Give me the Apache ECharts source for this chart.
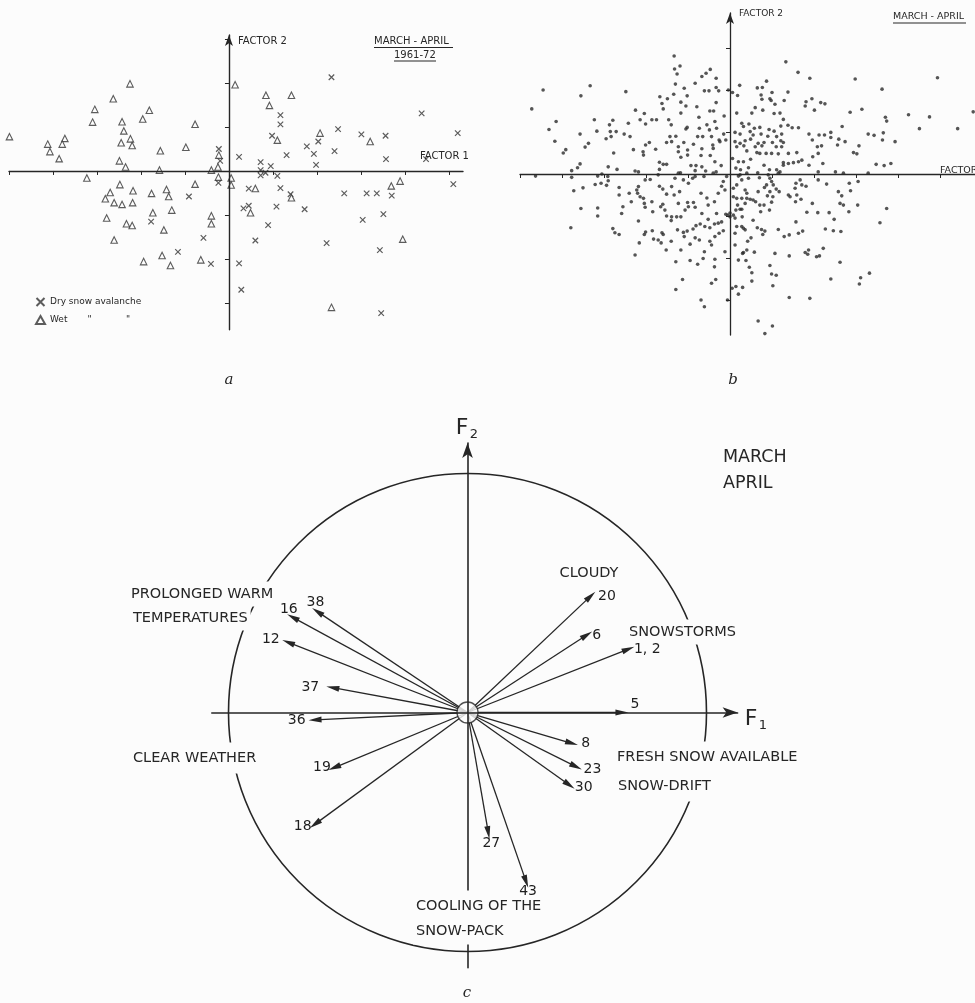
<!DOCTYPE html>
<html><head><meta charset="utf-8">
<script src="https://cdn.jsdelivr.net/npm/echarts@6/dist/echarts.min.js"></script>
<style>html,body{margin:0;padding:0;background:#fcfcfc}#c{width:975px;height:1003px}</style>
</head><body><div id="c"></div>
<script>
// ---------- Panel a : factor scores, dry vs wet avalanches (units = axis ticks) ----------
const dryA = [
[-0.91,-0.58],[-0.23,0.50],[-0.20,0.23],[-0.24,-0.27],[-1.77,-1.15],[-0.58,-1.52],[-1.16,-1.84],[-0.41,-2.11],
[2.33,2.13],[1.17,1.27],[1.17,1.06],[4.38,1.31],[0.98,0.80],[2.48,0.95],[2.03,0.67],[3.01,0.83],[3.56,0.80],[5.20,0.86],
[0.23,0.32],[1.31,0.36],[1.77,0.56],[1.93,0.39],[2.40,0.45],[3.57,0.27],[4.48,0.27],[0.72,0.20],[0.95,0.11],[0.72,0.02],
[0.83,-0.04],[0.72,-0.10],[1.10,-0.11],[1.98,0.14],[0.45,-0.40],[1.17,-0.39],[5.10,-0.30],[2.62,-0.51],[3.13,-0.51],
[3.36,-0.51],[3.70,-0.56],[1.40,-0.53],[0.33,-0.85],[0.45,-0.79],[1.08,-0.81],[1.72,-0.87],[0.89,-1.23],[3.04,-1.11],
[3.51,-0.98],[0.60,-1.58],[2.22,-1.64],[3.43,-1.80],[0.23,-2.10],[0.28,-2.70],[3.46,-3.23]
];
const wetA = [
[-4.99,0.78],[-2.25,1.98],[-2.63,1.64],[-3.05,1.40],[-3.10,1.11],[-1.81,1.38],[-1.96,1.18],[-2.43,1.12],[-2.39,0.91],
[-2.24,0.73],[-2.45,0.64],[-2.20,0.58],[-0.77,1.06],[-3.73,0.74],[-3.79,0.61],[-4.12,0.61],[-4.07,0.44],[-3.86,0.28],
[-0.98,0.54],[-1.56,0.46],[-2.49,0.23],[-2.35,0.09],[-1.58,0.02],[-0.40,0.02],[-0.23,0.36],[-0.25,0.09],[0.14,1.96],
[-3.23,-0.16],[-2.48,-0.31],[-0.77,-0.30],[-0.24,-0.14],[0.05,-0.16],[0.05,-0.32],[-2.18,-0.45],[-2.70,-0.49],
[-1.76,-0.51],[-1.42,-0.42],[-1.37,-0.58],[-2.81,-0.63],[-2.61,-0.72],[-2.43,-0.76],[-2.19,-0.72],[-1.73,-0.95],
[-1.30,-0.89],[-2.78,-1.07],[-2.33,-1.20],[-2.20,-1.24],[-1.48,-1.34],[-0.40,-1.02],[-0.40,-1.20],[-2.61,-1.57],
[-1.52,-1.92],[-1.94,-2.06],[-1.33,-2.15],[-0.64,-2.02],[0.84,1.72],[1.42,1.72],[0.92,1.49],[1.10,0.70],[2.07,0.86],
[3.21,0.67],[0.60,-0.40],[3.69,-0.34],[3.89,-0.23],[1.42,-0.61],[0.49,-0.95],[3.95,-1.55],[2.33,-3.10]
];
const ticksAx = [-5,-4,-3,-2,-1,1,2,3,4,5];
const ticksAy = [-3,-2,-1,1,2,3];

// ---------- Panel b : all days, factor scores ----------
const scoresB = [
[-4.72,1.55],[-4.45,2.00],[-4.31,1.06],[-4.14,1.25],[-4.17,0.78],[-3.97,0.50],[-3.91,0.58],[-3.55,1.86],[-3.33,2.10],[-3.57,0.95],
[-3.45,0.64],[-3.37,0.73],[-3.23,1.29],[-3.17,1.02],[-3.63,0.15],[-3.57,0.24],[-3.77,0.08],[-2.95,0.84],[-2.87,1.17],[-2.85,1.01],
[-2.83,0.89],[-2.79,1.28],[-2.71,1.01],[-2.77,0.50],[-2.90,0.17],[-2.69,0.11],[-2.48,1.96],[-2.52,0.95],[-2.42,1.21],[-2.38,0.89],
[-2.25,1.52],[-2.30,0.58],[-2.26,0.07],[-2.14,1.29],[-2.04,1.44],[-2.01,1.19],[-2.07,0.53],[-2.06,0.45],[-2.01,0.69],[-1.92,0.75],
[-1.86,1.29],[-1.75,1.29],[-1.77,0.59],[-1.67,1.84],[-1.62,1.68],[-1.59,1.55],[-1.49,1.79],[-1.46,1.29],[-1.40,1.17],[-1.51,0.75],
[-1.43,0.89],[-1.39,0.77],[-1.68,0.28],[-1.59,0.23],[-1.51,0.23],[-1.68,0.11],[-1.33,2.81],[-1.32,2.50],[-1.19,2.57],[-1.26,2.38],
[-1.30,2.14],[-1.34,1.90],[-1.17,1.71],[-1.17,1.45],[-1.09,2.04],[-1.02,1.86],[-1.05,1.62],[-1.29,0.90],[-1.23,0.65],[-1.23,0.53],
[-1.17,0.40],[-1.05,1.07],[-1.02,1.11],[-1.10,0.75],[-1.01,0.57],[-1.01,0.45],[-0.93,0.20],[-0.81,0.20],[-0.87,0.71],[-0.83,2.16],
[-0.79,1.60],[-0.74,1.35],[-0.73,1.09],[-0.77,0.89],[-0.67,2.32],[-0.57,2.40],[-0.47,2.49],[-0.61,1.98],[-0.50,1.98],[-0.33,2.28],
[-0.33,2.06],[-0.27,1.98],[-0.48,1.50],[-0.39,1.50],[-0.55,1.17],[-0.49,1.05],[-0.33,1.70],[-0.36,1.25],[-0.32,1.09],[-0.44,0.89],
[-0.41,0.69],[-0.40,0.61],[-0.65,0.89],[-0.67,0.60],[-0.69,0.44],[-0.67,0.17],[-0.47,0.44],[-0.36,0.29],[-0.26,0.81],[-0.24,0.77],
[-0.14,1.38],[-0.15,0.95],[-0.10,0.81],[-0.21,0.20],[-0.33,0.05],[-0.58,0.07],[-0.83,0.08],[-1.23,0.02],[-0.04,2.00],
[1.33,2.67],[1.62,2.42],[1.90,2.28],[2.98,2.26],[4.94,2.29],[3.62,2.02],[0.87,2.21],[0.23,2.11],[0.65,2.05],[0.77,2.06],
[0.06,1.94],[0.18,1.87],[0.74,1.88],[1.00,1.94],[1.38,1.95],[0.76,1.78],[0.95,1.79],[0.98,1.75],[1.29,1.75],[1.95,1.79],
[1.81,1.72],[1.79,1.62],[2.16,1.70],[2.26,1.67],[2.01,1.52],[1.07,1.66],[0.60,1.58],[0.78,1.52],[0.52,1.45],[0.16,1.45],
[1.05,1.44],[1.19,1.45],[1.27,1.30],[2.86,1.47],[3.14,1.54],[3.70,1.35],[3.73,1.26],[4.25,1.41],[4.75,1.36],[4.51,1.08],
[5.42,1.08],[5.79,1.48],[2.67,1.13],[0.45,1.19],[0.28,1.21],[0.32,1.13],[0.58,1.09],[0.71,1.11],[0.93,1.06],[1.05,1.02],
[1.21,1.14],[1.38,1.16],[1.48,1.10],[1.63,1.10],[0.12,0.99],[0.24,0.95],[0.48,1.01],[0.55,0.93],[0.74,0.95],[0.90,0.90],
[1.11,0.89],[1.23,0.95],[1.88,0.95],[2.12,0.93],[2.25,0.93],[2.40,0.99],[2.40,0.87],[1.96,0.81],[2.59,0.83],[2.74,0.77],
[3.29,0.95],[3.43,0.92],[3.65,0.98],[3.63,0.81],[3.93,0.77],[0.12,0.77],[0.24,0.73],[0.36,0.79],[0.49,0.83],[0.67,0.73],
[0.81,0.75],[1.01,0.75],[1.21,0.79],[1.27,0.75],[0.16,0.65],[0.33,0.67],[0.40,0.55],[0.60,0.65],[0.76,0.67],[1.10,0.65],
[1.23,0.65],[0.64,0.51],[0.71,0.49],[0.86,0.49],[0.99,0.49],[1.15,0.48],[1.39,0.49],[1.59,0.51],[2.08,0.65],[2.18,0.67],
[2.10,0.49],[2.56,0.69],[3.07,0.67],[2.94,0.51],[3.02,0.48],[1.97,0.41],[0.06,0.37],[0.20,0.29],[0.32,0.29],[0.49,0.35],
[1.27,0.27],[1.39,0.25],[1.51,0.27],[1.63,0.29],[1.71,0.33],[1.88,0.21],[2.21,0.25],[0.81,0.21],[0.44,0.15],[0.14,0.14],
[0.25,0.10],[0.66,0.03],[0.94,0.10],[1.11,0.10],[1.15,0.02],[1.27,0.21],[3.48,0.23],[3.67,0.20],[3.83,0.25],[2.51,0.05],
[2.70,0.02],[3.29,0.02],
[-4.63,-0.05],[-3.77,-0.08],[-3.15,-0.05],[-3.05,0.00],[-2.91,-0.06],[-2.90,-0.16],[-3.72,-0.40],[-3.50,-0.33],[-3.21,-0.25],[-3.07,-0.22],
[-2.94,-0.27],[-3.55,-0.82],[-3.15,-0.81],[-3.15,-1.00],[-3.79,-1.28],[-2.64,-0.32],[-2.64,-0.50],[-2.40,-0.46],[-2.55,-0.78],[-2.58,-0.94],
[-2.35,-0.66],[-2.22,-0.38],[-2.18,-0.30],[-2.20,-0.46],[-2.14,-0.54],[-2.06,-0.58],[-2.04,-0.70],[-2.02,-0.79],[-2.18,-1.12],[-1.86,-0.66],
[-1.84,-0.90],[-1.90,-0.13],[-2.02,-0.14],[-1.68,-0.29],[-1.60,-0.36],[-1.51,-0.48],[-1.33,-0.50],[-1.20,-0.42],[-1.23,-0.70],[-1.39,-0.30],
[-1.11,-0.14],[-0.99,-0.22],[-0.89,-0.10],[-1.01,-0.68],[-0.87,-0.68],[-0.99,-0.78],[-0.83,-0.79],[-0.69,-0.46],[-0.55,-0.57],[-0.52,-0.74],
[-0.37,-0.66],[-0.28,-0.46],[-0.20,-0.29],[-0.12,-0.38],[-0.16,-0.18],[-1.65,-0.78],[-1.60,-0.72],[-1.55,-0.86],[-1.51,-1.00],[-1.39,-1.02],
[-1.27,-1.02],[-1.17,-1.02],[-1.40,-1.11],[-1.07,-0.86],[-0.67,-0.94],[-0.52,-1.08],[-0.32,-0.94],[-0.10,-0.96],[0.00,-0.93],[0.00,-1.02],
[-0.05,-0.98],[0.12,-1.05],[-0.20,-1.14],[-0.28,-1.17],[-0.37,-1.19],[-0.48,-1.28],[-0.60,-1.25],[-0.71,-1.19],[-0.81,-1.23],[-0.88,-1.31],
[-1.02,-1.36],[-1.11,-1.39],[-1.25,-1.33],[-0.16,-1.35],[-0.26,-1.41],[-0.36,-1.49],[-0.48,-1.60],[-0.44,-1.69],[-0.73,-1.57],[-0.83,-1.52],
[-0.95,-1.67],[-1.09,-1.49],[-1.17,-1.81],[-1.40,-1.60],[-1.52,-1.81],[-1.64,-1.64],[-1.71,-1.57],[-1.82,-1.55],[-1.62,-1.40],[-1.59,-1.44],
[-1.85,-1.35],[-2.01,-1.38],[-2.04,-1.44],[-2.16,-1.64],[-2.26,-1.93],[-2.79,-1.30],[-2.74,-1.40],[-2.64,-1.44],[-1.29,-2.09],[-0.95,-2.06],
[-0.77,-2.15],[-0.64,-2.01],[-0.61,-1.85],[-0.36,-2.03],[-0.37,-2.21],[-0.12,-1.85],[-1.13,-2.51],[-1.29,-2.75],[-0.34,-2.51],[-0.44,-2.60],
[-0.69,-3.00],[-0.61,-3.16],[-0.06,-3.00],[0.05,-2.72],[0.14,-2.68],[0.30,-2.70],[0.20,-2.86],[0.30,-1.89],[0.20,-2.05],[0.12,-1.69],
[0.12,-1.41],[0.28,-0.84],[0.18,-0.74],[0.29,-1.02],[0.28,-1.25],[0.08,-0.34],[0.16,-0.26],[0.28,-0.14],[0.20,-0.05],[0.08,-0.54],
[0.16,-0.58],[0.28,-0.58],[0.14,-0.86],[-1.18,0.03],[-1.71,-0.02],[-0.83,-0.06],[-0.62,-0.06],[-0.40,0.02],[-0.08,-0.06],[-1.31,-0.10],
[-2.18,0.05],
[0.24,-0.02],[0.40,0.02],[0.91,-0.02],[0.95,-0.10],[1.19,0.05],[0.44,-0.10],[0.70,-0.09],[0.36,-0.38],[0.40,-0.46],[0.40,-0.58],
[0.48,-0.60],[0.36,-0.70],[0.55,-0.62],[0.61,-0.66],[0.67,-0.42],[0.82,-0.32],[0.87,-0.26],[0.99,-0.18],[1.03,-0.26],[0.95,-0.42],
[0.89,-0.52],[1.02,-0.54],[0.99,-0.67],[1.10,-0.36],[1.17,-0.42],[0.81,-0.74],[0.71,-0.74],[0.73,-0.90],[0.94,-0.86],[0.24,-0.84],
[0.08,-0.98],[0.55,-1.10],[0.75,-1.32],[0.65,-1.28],[0.83,-1.36],[0.78,-1.44],[0.36,-1.33],[0.32,-1.29],[0.16,-1.25],[1.15,-1.32],
[0.50,-1.52],[0.42,-1.60],[0.40,-1.81],[0.32,-1.87],[0.58,-1.86],[0.38,-2.06],[0.46,-2.22],[0.52,-2.35],[0.52,-2.55],[0.95,-2.18],
[0.99,-2.38],[1.10,-2.41],[1.02,-2.66],[1.07,-1.89],[1.41,-1.95],[1.79,-1.87],[1.87,-1.81],[1.85,-1.91],[2.06,-1.97],[2.13,-1.95],
[2.22,-1.77],[1.29,-1.49],[1.41,-1.45],[1.63,-1.41],[1.73,-1.36],[1.57,-1.14],[1.83,-0.91],[2.09,-0.92],[2.36,-0.92],[2.48,-1.08],
[2.27,-1.31],[2.46,-1.35],[2.64,-1.37],[2.62,-2.10],[2.40,-2.50],[3.11,-2.47],[3.32,-2.36],[3.08,-2.62],[1.41,-2.94],[1.90,-2.96],
[0.67,-3.50],[1.01,-3.62],[0.83,-3.80],[1.57,-0.22],[1.67,-0.14],[1.71,-0.26],[1.81,-0.29],[1.55,-0.34],[1.59,-0.50],[1.56,-0.66],
[1.69,-0.60],[1.39,-0.50],[1.43,-0.54],[1.96,-0.70],[2.10,-0.14],[2.30,-0.24],[2.58,-0.42],[2.66,-0.52],[2.62,-0.70],[2.70,-0.74],
[2.84,-0.22],[2.87,-0.40],[3.05,-0.18],[3.04,-0.74],[2.83,-0.90],[3.73,-0.82],[3.57,-1.16],[2.10,0.05]
];
const ticksBx = [-5,-4,-3,-2,-1,1,2,3,4,5];
const ticksBy = [-3,-2,-1,1,2,3];

// ---------- Panel c : variable loadings on F1 / F2 ----------
const vecNames = ['1, 2','5','6','20','8','23','30','27','43','18','19','36','37','12','16','38'];
const vecF1 = [0.673,0.646,0.499,0.515,0.436,0.454,0.426,0.087,0.245,-0.638,-0.557,-0.638,-0.564,-0.750,-0.731,-0.628];
const vecF2 = [0.266,0.000,0.325,0.488,-0.129,-0.227,-0.304,-0.504,-0.709,-0.468,-0.231,-0.031,0.104,0.294,0.399,0.423];

// label placement (style only)
const labelPlace = {
 '1, 2':{position:'right',distance:5}, '5':{position:'right',distance:8,offset:[0,-8]},
 '6':{position:'right',distance:5}, '20':{position:'right',distance:7},
 '8':{position:'right',distance:9}, '23':{position:'right',distance:7,offset:[0,3]},
 '30':{position:'right',distance:5,offset:[0,2]}, '27':{position:'bottom',distance:3,offset:[3,0]},
 '43':{position:'bottom',distance:2,offset:[2,0]}, '18':{position:'left',distance:3,offset:[0,2]},
 '19':{position:'left',distance:3}, '36':{position:'left',distance:9},
 '37':{position:'left',distance:13}, '12':{position:'left',distance:8,offset:[0,-3]},
 '16':{position:'top',distance:0,offset:[-4,0]}, '38':{position:'top',distance:2,offset:[-2,0]}
};

const INK = '#262626';
const BG = '#fcfcfc';
const SANS = '"DejaVu Sans", sans-serif';

function axisBase(gi, min, max, ticks, arrow, w) {
  return {
    gridIndex: gi, type: 'value', min: min, max: max, z: 4,
    axisLine: {show: true, onZero: true, symbol: arrow ? ['none','arrow'] : ['none','none'],
      symbolSize: arrow ? [6, 11] : [1, 1], lineStyle: {color: INK, width: w || 1.4}},
    axisTick: {show: !!ticks, customValues: ticks || [], length: 4, lineStyle: {color: INK, width: 1}},
    axisLabel: {show: false}, splitLine: {show: false}
  };
}
const xCa = axisBase(2, -1.07, 1.13, null, true, 1.6);
xCa.axisLine.symbolSize = [8, 15];
const yCa = axisBase(2, -1.07, 1.13, null, true, 1.6);
yCa.axisLine.symbolSize = [8, 15];

function txt(t, x, y, size, opt) {
  opt = opt || {};
  const align = opt.align || 'left';
  const st = {text: t, x: 0, y: 0, font: (opt.style || '') + ' ' + size + 'px ' + (opt.family || SANS),
    fill: INK, align: align, textAlign: align, verticalAlign: 'middle', textVerticalAlign: 'middle'};
  let z = 100;
  if (opt.bg) { st.backgroundColor = BG; st.padding = opt.pad || [5, 3]; z = 4.5; }
  return {type: 'text', x: x, y: y, z: z, style: st, silent: true};
}
function uline(x1, x2, y) {
  return {type: 'line', z: 100, shape: {x1: x1, y1: y, x2: x2, y2: y}, style: {stroke: INK, lineWidth: 1}, silent: true};
}

const option = {
  backgroundColor: BG,
  animation: false,
  textStyle: {fontFamily: SANS},
  grid: [
    {left: 9, top: 35, width: 454, height: 294.8},
    {left: 520, top: 13, width: 455, height: 322},
    {left: 211.8, top: 443, width: 525.8, height: 524.7}
  ],
  xAxis: [axisBase(0, -5, 5.32, ticksAx, false, 1.4), axisBase(1, -5, 5.833, ticksBx, false, 1.3), xCa],
  yAxis: [axisBase(0, -3.61, 3.09, ticksAy, true, 1.4), axisBase(1, -3.833, 3.833, ticksBy, true, 1.3), yCa],
  polar: {center: [467.5, 712.5], radius: 239},
  angleAxis: {type: 'value', min: 0, max: 360, startAngle: 90,
    axisLine: {show: true, lineStyle: {color: INK, width: 1.6}},
    axisTick: {show: false}, axisLabel: {show: false}, splitLine: {show: false}},
  radiusAxis: {type: 'value', min: 0, max: 1, axisLine: {show: false}, axisTick: {show: false},
    axisLabel: {show: false}, splitLine: {show: false}},
  legend: {
    left: 35, top: 297, padding: 0, orient: 'vertical', itemWidth: 9, itemHeight: 8, itemGap: 8,
    textStyle: {fontSize: 9, color: INK, fontFamily: SANS},
    data: ['Dry snow avalanche', 'Wet       "            "']
  },
  series: [
    {type: 'scatter', name: 'Dry snow avalanche', xAxisIndex: 0, yAxisIndex: 0, data: dryA,
      symbol: 'path://M0,0L10,10M10,0L0,10', symbolSize: 5.5,
      itemStyle: {color: 'rgba(0,0,0,0)', borderColor: '#333', borderWidth: 1.2}},
    {type: 'scatter', name: 'Wet       "            "', xAxisIndex: 0, yAxisIndex: 0, data: wetA,
      symbol: 'triangle', symbolSize: 6.5,
      itemStyle: {color: BG, borderColor: '#333', borderWidth: 1.1}},
    {type: 'scatter', name: 'all days', xAxisIndex: 1, yAxisIndex: 1, data: scoresB,
      symbol: 'circle', symbolSize: 3.6, itemStyle: {color: '#2a2a2a'}},
    {type: 'lines', coordinateSystem: 'cartesian2d', xAxisIndex: 2, yAxisIndex: 2, z: 2,
      symbol: ['none', 'triangle'], symbolSize: [1, [6, 13]],
      lineStyle: {color: INK, width: 1.3, opacity: 1, curveness: 0},
      itemStyle: {color: INK},
      data: vecNames.map((n, i) => ({name: n, coords: [[0, 0], [vecF1[i], vecF2[i]]]}))},
    {type: 'scatter', name: 'vector labels', xAxisIndex: 2, yAxisIndex: 2, z: 5, silent: true,
      symbolSize: 1, itemStyle: {color: 'rgba(0,0,0,0)'},
      label: {show: true, formatter: '{b}', color: '#1e1e1e', opacity: 1, fontWeight: 'normal',
        textBorderWidth: 0, fontSize: 14, fontFamily: SANS},
      data: vecNames.map((n, i) => ({name: n, value: [vecF1[i], vecF2[i]], label: labelPlace[n]}))},
    {type: 'scatter', name: 'origin', xAxisIndex: 2, yAxisIndex: 2, z: 3, silent: true,
      data: [[0, 0]], symbolSize: 21,
      itemStyle: {color: BG, borderColor: INK, borderWidth: 1.3}},
    {type: 'scatter', coordinateSystem: 'polar', data: []}
  ],
  graphic: [
    // panel a
    txt('FACTOR 2', 238, 41, 10),
    txt('MARCH - APRIL', 374, 41, 10), uline(374, 453, 47.5),
    txt('1961-72', 394, 55, 10), uline(394, 436, 61),
    txt('FACTOR 1', 420, 156, 10),
    txt('a', 229, 380, 15, {align: 'center', style: 'italic', family: '"DejaVu Serif", serif'}),
    // panel b
    txt('FACTOR 2', 739, 14, 9),
    txt('MARCH - APRIL', 893, 17, 9.5), uline(893, 966, 23),
    txt('FACTOR 1', 940, 171, 9.5),
    txt('b', 733, 380, 15, {align: 'center', style: 'italic', family: '"DejaVu Serif", serif'}),
    // panel c
    txt('F', 462, 428, 22, {align: 'center'}), txt('2', 474, 435, 13, {align: 'center'}),
    txt('F', 751, 719, 22, {align: 'center'}), txt('1', 763, 726, 13, {align: 'center'}),
    txt('MARCH', 723, 457, 17.5), txt('APRIL', 723, 483, 17.5),
    txt('PROLONGED WARM', 128, 594, 14.5, {bg: true}),
    txt('TEMPERATURES', 130, 618, 14.5, {bg: true}),
    txt('CLOUDY', 589, 573, 14.5, {align: 'center'}),
    txt('SNOWSTORMS', 626, 632, 14.5, {bg: true}),
    txt('CLEAR WEATHER', 130, 758, 14.5, {bg: true, pad: [8, 3]}),
    txt('FRESH SNOW AVAILABLE', 614, 757, 14.5, {bg: true, pad: [8, 3]}),
    txt('SNOW-DRIFT', 615, 786, 14.5, {bg: true, pad: [8, 3]}),
    txt('COOLING OF THE', 413, 906, 14.5, {bg: true, pad: [4, 3, 12, 3]}),
    txt('SNOW-PACK', 413, 931, 14.5, {bg: true, pad: [8, 3, 4, 3]}),
    txt('c', 467, 993, 15, {align: 'center', style: 'italic', family: '"DejaVu Serif", serif'})
  ]
};
const chart = echarts.init(document.getElementById('c'), null, {renderer: 'canvas'});
chart.setOption(option);
</script>
</body></html>
